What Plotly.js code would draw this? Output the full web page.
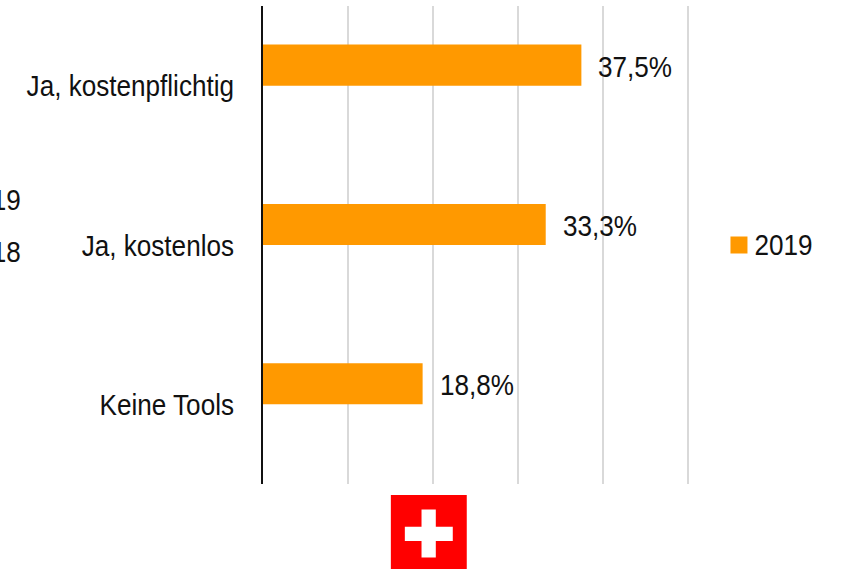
<!DOCTYPE html>
<html>
<head>
<meta charset="utf-8">
<script src="https://cdn.plot.ly/plotly-3.0.1.min.js"></script>
<style>html,body{margin:0;padding:0;background:#fff;overflow:hidden}#c{width:844px;height:569px}</style>
</head>
<body>
<div id="c"></div>
<script>
var categories = ["Ja, kostenpflichtig", "Ja, kostenlos", "Keine Tools"];
var values2019 = [37.5, 33.3, 18.8];
var values2018 = [null, null, null];
var labels2019 = ["37,5%", "33,3%", "18,8%"];
var strayLegendLabels = ["2019", "2018"];

var FONT = '"Liberation Sans", Arial, sans-serif';
var INK = '#111111';
var NARROW = 0.87;
var W = 844, H = 569;
var m = {l: 263, r: 147.5, t: 6, b: 85};
var pw = W - m.l - m.r, ph = H - m.t - m.b;
function px(x) { return (x - m.l) / pw; }
function py(y) { return 1 - (y - m.t) / ph; }

var traces = [
  {type: 'bar', orientation: 'h', name: '2019', y: categories, x: values2019,
   marker: {color: '#FF9900'}, hoverinfo: 'x+y'},
  {type: 'bar', orientation: 'h', name: '2018', y: categories, x: values2018,
   marker: {color: '#7F7F7F'}, showlegend: false, hoverinfo: 'skip'}
];

var annotations = categories.map(function (c, i) {
  return {x: values2019[i], y: c, xref: 'x', yref: 'y', text: labels2019[i],
          showarrow: false, xanchor: 'left', yanchor: 'middle',
          xshift: 15, yshift: 19.5, font: {family: FONT, size: 30, color: INK}};
});
[199, 252].forEach(function (yp, i) {
  annotations.push({x: px(21), y: py(yp), xref: 'paper', yref: 'paper', text: strayLegendLabels[i],
    showarrow: false, xanchor: 'right', yanchor: 'middle', xshift: 2,
    font: {family: FONT, size: 30, color: INK}});
});

var shapes = [
  {type: 'rect', xref: 'paper', yref: 'paper', x0: px(391), x1: px(467), y0: py(495), y1: py(569),
   fillcolor: '#FF0000', line: {width: 0}},
  {type: 'rect', xref: 'paper', yref: 'paper', x0: px(421.7), x1: px(436), y0: py(509.5), y1: py(557.5),
   fillcolor: '#FFFFFF', line: {width: 0}},
  {type: 'rect', xref: 'paper', yref: 'paper', x0: px(405), x1: px(453), y0: py(526.7), y1: py(541),
   fillcolor: '#FFFFFF', line: {width: 0}}
];

var layout = {
  width: W, height: H,
  margin: m,
  paper_bgcolor: '#fff', plot_bgcolor: '#fff',
  font: {family: FONT, size: 30, color: INK},
  barmode: 'group', bargap: 0.484, bargroupgap: 0,
  xaxis: {range: [0, 51], dtick: 10, showticklabels: false, showgrid: true,
          gridcolor: '#D9D9D9', gridwidth: 2, zeroline: false, showline: false, ticks: '', fixedrange: true},
  yaxis: {type: 'category', autorange: 'reversed', showgrid: false, zeroline: false,
          showline: true, linecolor: '#111111', linewidth: 2, ticks: '', ticklabelstandoff: 21,
          tickfont: {family: FONT, size: 30, color: INK}, fixedrange: true},
  showlegend: true,
  legend: {x: px(719.5), y: py(245), xanchor: 'left', yanchor: 'middle', bgcolor: 'rgba(0,0,0,0)',
           font: {family: FONT, size: 30, color: INK}, itemwidth: 30, itemclick: false, itemdoubleclick: false},
  annotations: annotations,
  shapes: shapes
};

// No condensed face is installed, so the text is narrowed horizontally about its aligned edge.
function narrow(el, side, dx, dy) {
  var b = el.getBBox();
  var ax = side === 'right' ? b.x + b.width : b.x;
  var t = el.getAttribute('transform') || '';
  el.setAttribute('transform', t + ' translate(' + (ax + (dx || 0)) + ',' + (dy || 0) + ') scale(' + NARROW + ',1) translate(' + (-ax) + ',0)');
}
Plotly.newPlot('c', traces, layout, {displayModeBar: false}).then(function (gd) {
  gd.querySelectorAll('.ytick text').forEach(function (t) { narrow(t, 'right'); });
  gd.querySelectorAll('.annotation-text').forEach(function (t) {
    narrow(t, strayLegendLabels.indexOf(t.textContent) >= 0 ? 'right' : 'left');
  });
  gd.querySelectorAll('.legendtext').forEach(function (t) { narrow(t, 'left', -4.5, -1.5); });
  gd.querySelectorAll('.legendpoints path').forEach(function (p) {
    p.setAttribute('d', 'M8.5,8.5H-8.5V-8.5H8.5Z');
  });
});
</script>
</body>
</html>
